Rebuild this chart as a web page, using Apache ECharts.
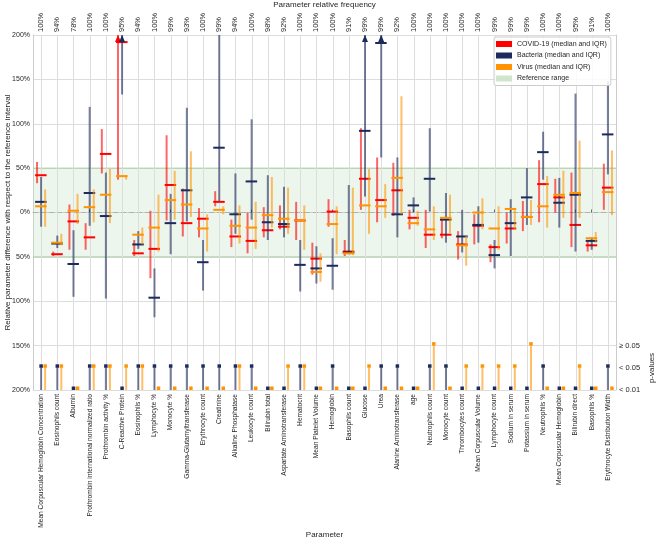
<!DOCTYPE html>
<html>
<head>
  <meta charset="utf-8">
  <title>Relative parameter difference</title>
  <script src="https://cdn.jsdelivr.net/npm/echarts@6/dist/echarts.min.js"></script>
  <style>
    html, body { margin: 0; padding: 0; background: #fff; }
    #chart { width: 660px; height: 549px; }
  </style>
</head>
<body>
  <div id="chart"></div>

  <script>
    const categories = [
      'Mean Corpuscular Hemoglobin Concentration', 'Eosinophils count', 'Albumin',
      'Prothrombin international normalized ratio', 'Prothrombin activity %', 'C-Reactive Protein',
      'Eosinophils %', 'Lymphocyte %', 'Monocyte %', 'Gamma-Glutamyltransferase', 'Erythrocyte count',
      'Creatinine', 'Alkaline Phosphatase', 'Leukocyte count', 'Bilirubin total',
      'Aspartate Aminotransferase', 'Hematocrit', 'Mean Platelet Volume', 'Hemoglobin',
      'Basophils count', 'Glucose', 'Urea', 'Alanine Aminotransferase', 'age', 'Neutrophils count',
      'Monocyte count', 'Thrombocytes count', 'Mean Corpuscular Volume', 'Lymphocyte count',
      'Sodium in serum', 'Potassium in serum', 'Neutrophils %', 'Mean Corpuscular Hemoglobin',
      'Bilirubin direct', 'Basophils %', 'Erythrocyte Distribution Width'
    ];
    const freqLabels = [
      '100%', '94%', '78%', '100%', '100%', '95%', '94%', '100%', '99%', '93%', '100%', '99%',
      '94%', '100%', '98%', '92%', '100%', '100%', '100%', '91%', '99%', '99%', '92%', '100%',
      '100%', '100%', '100%', '100%', '99%', '99%', '99%', '100%', '100%', '95%', '91%', '100%'
    ];

    // relative difference in %, values above 200 are off the chart (drawn as arrows)
    const covidLow  = [33, -49, -42, -42, 44, 37, -49, -74, -9, -27, -28, 7, -39, -46, -28, -19, -31, -70,
                       -16, -49, 3, -11, -4, -19, -40, -29, -53, -36, -56, -35, -21, -11, 0, -39, -44, 3];
    const covidMed  = [42, -47, -10, -28, 66, 192, -46, -41, 31, -12, -7, 12, -27, -32, -20, -16, -9, -52,
                       1, -44, 38, 14, 25, -6, -25, -25, -36, -15, -39, -18, -5, 32, 17, -14, -37, 28];
    const covidHigh = [57, -44, 9, -12, 94, 250, -31, 2, 87, 27, 5, 24, -8, 0, 6, 8, 12, -34,
                       15, -31, 95, 62, 56, 3, 3, -6, -21, -2, -36, 0, 13, 59, 38, 45, -33, 55];

    const bactLow  = [-16, -40, -95, -15, -97, 133, -41, -118, -47, -10, -88, 13, -24, -8, -31, -28, -89, -80,
                      -87, -47, 18, 62, -28, 0, 1, -34, -45, -34, -63, -49, -14, 37, -17, -44, -42, 43];
    const bactMed  = [12, -35, -58, 22, -4, 260, -36, -96, -12, 25, -56, 73, -2, 35, -11, -13, -59, -63,
                      -60, -45, 92, 191, -2, 8, 38, -8, -27, -14, -48, -12, 17, 68, 11, 20, -32, 88];
    const bactHigh = [40, -26, -20, 119, 45, 300, -21, -63, 21, 118, -31, 200, 44, 105, 42, 29, -31, -38,
                      -29, 31, 250, 260, 62, 17, 95, 22, 3, 7, -31, 15, 50, 91, 39, 134, -28, 148];

    const virusLow  = [-16, -37, -13, -11, -12, 37, -36, -44, -8, -5, -44, -2, -35, -41, -17, -24, -42, -78,
                       -47, -48, -24, -6, -2, -15, -31, -23, -60, -19, -42, -19, -14, -17, -6, -6, -34, -3];
    const virusMed  = [7, -34, 2, 6, 20, 41, -25, -17, 14, 9, -18, 3, -15, -17, -3, -7, -9, -67,
                       -13, -46, 8, 7, 39, -12, -19, -6, -37, 0, -18, 4, -5, 7, 20, 22, -29, 23];
    const virusHigh = [26, -24, 21, 26, 49, 42, -17, 20, 47, 69, -2, 7, 8, 12, 40, 28, 8, -46,
                       7, 28, 49, 32, 131, 2, 7, 20, -26, 16, 7, 5, 14, 41, 47, 81, -22, 70];

    const pBacteria = ['<0.05', '<0.05', '<0.01', '<0.05', '<0.05', '<0.01', '<0.05', '<0.05', '<0.05',
                       '<0.05', '<0.05', '<0.05', '<0.05', '<0.05', '<0.01', '<0.01', '<0.05', '<0.01',
                       '<0.05', '<0.01', '<0.01', '<0.05', '<0.05', '<0.01', '<0.05', '<0.05', '<0.01',
                       '<0.01', '<0.01', '<0.01', '<0.01', '<0.05', '<0.01', '<0.01', '<0.01', '<0.05'];
    const pVirus    = ['<0.05', '<0.05', '<0.01', '<0.05', '<0.05', '<0.05', '<0.05', '<0.01', '<0.01',
                       '<0.01', '<0.01', '<0.01', '<0.05', '<0.01', '<0.01', '<0.05', '<0.05', '<0.01',
                       '<0.01', '<0.01', '<0.05', '<0.01', '<0.01', '<0.01', '>=0.05', '<0.01', '<0.05',
                       '<0.05', '<0.05', '<0.05', '>=0.05', '<0.01', '<0.01', '<0.05', '<0.01', '<0.01'];

    // where each p-value class sits on the y scale, and its label on the right axis
    const pLevels = { '>=0.05': -150, '<0.05': -175, '<0.01': -200 };
    const pTickLabels = { '-150': '≥ 0.05', '-175': '< 0.05', '-200': '< 0.01' };
    const refRange = [-50, 50];

    const RED = '#ff0000', NAVY = '#1c2a5c', ORANGE = '#ff9400', GREEN = '#cfe6cc';
    const FONT = "'Liberation Sans', Arial, sans-serif";
    const TXT = '#262626';

    function errorBars(color, shift) {
      return function (params, api) {
        const i = api.value(0);
        const lo = api.value(1), med = api.value(2), hi = api.value(3);
        const band = api.size([1, 0])[0];
        const x = api.coord([i, 0])[0] + shift * band;
        const yLo = api.coord([i, lo])[1];
        const yHi = api.coord([i, Math.min(hi, 200)])[1];
        const children = [{
          type: 'line',
          shape: { x1: x, y1: yLo, x2: x, y2: yHi },
          style: { stroke: color, lineWidth: 2, opacity: 0.6 }
        }];
        if (med <= 200) {
          const m = api.coord([i, med]);
          children.push({
            type: 'line',
            shape: { x1: m[0] - 6, y1: m[1], x2: m[0] + 5.5, y2: m[1] },
            style: { stroke: color, lineWidth: 2 }
          });
        }
        if (hi > 200) {
          children.push({
            type: 'polygon',
            shape: { points: [[x - 3, yHi + 7], [x + 3, yHi + 7], [x, yHi]] },
            style: { fill: color }
          });
        }
        return { type: 'group', children: children };
      };
    }

    function pStems(color, shift) {
      return function (params, api) {
        const i = api.value(0);
        const band = api.size([1, 0])[0];
        const x = api.coord([i, 0])[0] + shift * band;
        const yTop = api.coord([i, api.value(1)])[1];
        const yBot = api.coord([i, -200])[1];
        return {
          type: 'group',
          children: [
            { type: 'line', shape: { x1: x, y1: yTop, x2: x, y2: yBot },
              style: { stroke: color, lineWidth: 2, opacity: 0.6 } },
            { type: 'rect', shape: { x: x - 1.75, y: yTop - 3.5, width: 3.5, height: 3.5 },
              style: { fill: color } }
          ]
        };
      };
    }

    const idx = categories.map((c, i) => i);
    const covidData = idx.map(i => [i, covidLow[i], covidMed[i], covidHigh[i]]);
    const bactData = idx.map(i => [i, bactLow[i], bactMed[i], bactHigh[i]]);
    const virusData = idx.map(i => [i, virusLow[i], virusMed[i], virusHigh[i]]);
    const pBactData = idx.map(i => [i, pLevels[pBacteria[i]]]);
    const pVirusData = idx.map(i => [i, pLevels[pVirus[i]]]);

    const chart = echarts.init(document.getElementById('chart'));
    chart.setOption({
      animation: false,
      backgroundColor: '#fff',
      textStyle: { fontFamily: FONT, color: TXT },
      grid: { left: 33, right: 44, top: 35, bottom: 159, outerBoundsMode: 'none' },
      legend: {
        left: 494, top: 37, orient: 'vertical',
        itemWidth: 16, itemHeight: 6, itemGap: 3.5,
        padding: [3, 4, 3, 2],
        backgroundColor: 'rgba(255,255,255,0.85)',
        borderColor: '#cccccc', borderWidth: 1, borderRadius: 2,
        selectedMode: false,
        textStyle: { fontSize: 7, color: TXT, fontFamily: FONT, lineHeight: 8 },
        data: [
          { name: 'COVID-19 (median and IQR)', icon: 'rect', itemStyle: { color: RED } },
          { name: 'Bacteria (median and IQR)', icon: 'rect', itemStyle: { color: NAVY } },
          { name: 'Virus (median and IQR)', icon: 'rect', itemStyle: { color: ORANGE } },
          { name: 'Reference range', icon: 'rect', itemStyle: { color: GREEN } }
        ]
      },
      xAxis: [
        {
          type: 'category', data: categories, position: 'bottom',
          axisLine: { show: true, lineStyle: { color: '#cccccc' } },
          axisTick: { show: false },
          axisLabel: { rotate: 90, fontSize: 6.6, margin: 4, interval: 0, color: TXT },
          splitLine: { show: false },
          name: 'Parameter', nameLocation: 'middle', nameGap: 141, nameMoveOverlap: false,
          nameTextStyle: { fontSize: 8, color: TXT }
        },
        {
          type: 'category', data: categories, position: 'top',
          axisLine: { show: true, lineStyle: { color: '#cccccc' } },
          axisTick: { show: true, alignWithLabel: true, length: 3, lineStyle: { color: '#444' } },
          axisLabel: { rotate: 90, fontSize: 7.5, margin: 3, interval: 0, color: TXT,
                       formatter: (v, i) => freqLabels[i] },
          splitLine: { show: false },
          name: 'Parameter relative frequency', nameLocation: 'middle', nameGap: 26,
          nameMoveOverlap: false,
          nameTextStyle: { fontSize: 8, color: TXT }
        }
      ],
      yAxis: [
        {
          type: 'value', min: -200, max: 200, interval: 50,
          axisLine: { show: true, lineStyle: { color: '#cccccc' } },
          axisTick: { show: false },
          axisLabel: { fontSize: 7, margin: 3, color: TXT, formatter: v => Math.abs(v) + '%' },
          splitLine: { show: true, lineStyle: { color: '#dddddd' } },
          name: 'Relative parameter difference with respect to the reference interval',
          nameLocation: 'middle', nameGap: 21, nameMoveOverlap: false,
          nameTextStyle: { fontSize: 8, color: TXT }
        },
        {
          type: 'value', position: 'right', min: -200, max: 200, interval: 25,
          axisLine: { show: true, lineStyle: { color: '#cccccc' } },
          axisTick: { show: false },
          splitLine: { show: false },
          axisLabel: { fontSize: 7.5, margin: 3, color: TXT, formatter: v => pTickLabels[v] || '' }
        }
      ],
      graphic: [{
        type: 'text', x: 652, y: 368, rotation: Math.PI / 2,
        style: { text: 'p-values', fontSize: 8, fill: TXT, fontFamily: FONT,
                 textAlign: 'center', textVerticalAlign: 'middle' }
      }],
      series: [
        {
          name: 'Reference range', type: 'custom', silent: true, z: 1,
          itemStyle: { color: GREEN },
          data: [[0, refRange[0], refRange[1]]],
          encode: { x: 0, y: [1, 2] },
          renderItem: function (params, api) {
            const cs = params.coordSys;
            const yLo = api.coord([0, api.value(1)])[1];
            const yHi = api.coord([0, api.value(2)])[1];
            const y0 = api.coord([0, 0])[1];
            return {
              type: 'group',
              children: [
                { type: 'rect', shape: { x: cs.x, y: yHi, width: cs.width, height: yLo - yHi },
                  style: { fill: 'rgba(190,222,185,0.28)' } },
                { type: 'line', shape: { x1: cs.x, y1: yHi, x2: cs.x + cs.width, y2: yHi },
                  style: { stroke: '#a9cfa5', lineWidth: 1 } },
                { type: 'line', shape: { x1: cs.x, y1: yLo, x2: cs.x + cs.width, y2: yLo },
                  style: { stroke: '#a9cfa5', lineWidth: 1 } },
                { type: 'line', shape: { x1: cs.x, y1: y0, x2: cs.x + cs.width, y2: y0 },
                  style: { stroke: '#b0b0b0', lineWidth: 1, lineDash: [5, 3] } }
              ]
            };
          }
        },
        {
          name: 'grid', type: 'custom', silent: true, z: 1,
          data: idx.map(i => [i]),
          encode: { x: 0 },
          renderItem: function (params, api) {
            const cs = params.coordSys;
            const x = Math.round(api.coord([api.value(0), 0])[0]) + 0.5;
            return {
              type: 'line',
              shape: { x1: x, y1: cs.y, x2: x, y2: cs.y + cs.height },
              style: { stroke: '#dddddd', lineWidth: 1 }
            };
          }
        },
        {
          name: 'COVID-19 (median and IQR)', type: 'custom', silent: true, z: 3,
          itemStyle: { color: RED }, data: covidData,
          encode: { x: 0, y: [1, 2, 3] }, renderItem: errorBars(RED, -0.25)
        },
        {
          name: 'Bacteria (median and IQR)', type: 'custom', silent: true, z: 3,
          itemStyle: { color: NAVY }, data: bactData,
          encode: { x: 0, y: [1, 2, 3] }, renderItem: errorBars(NAVY, 0)
        },
        {
          name: 'Virus (median and IQR)', type: 'custom', silent: true, z: 3,
          itemStyle: { color: ORANGE }, data: virusData,
          encode: { x: 0, y: [1, 2, 3] }, renderItem: errorBars(ORANGE, 0.25)
        },
        {
          name: 'p Bacteria', type: 'custom', silent: true, z: 3,
          data: pBactData, encode: { x: 0, y: 1 }, renderItem: pStems(NAVY, 0)
        },
        {
          name: 'p Virus', type: 'custom', silent: true, z: 3,
          data: pVirusData, encode: { x: 0, y: 1 }, renderItem: pStems(ORANGE, 0.25)
        }
      ]
    });
  </script>
</body>
</html>
